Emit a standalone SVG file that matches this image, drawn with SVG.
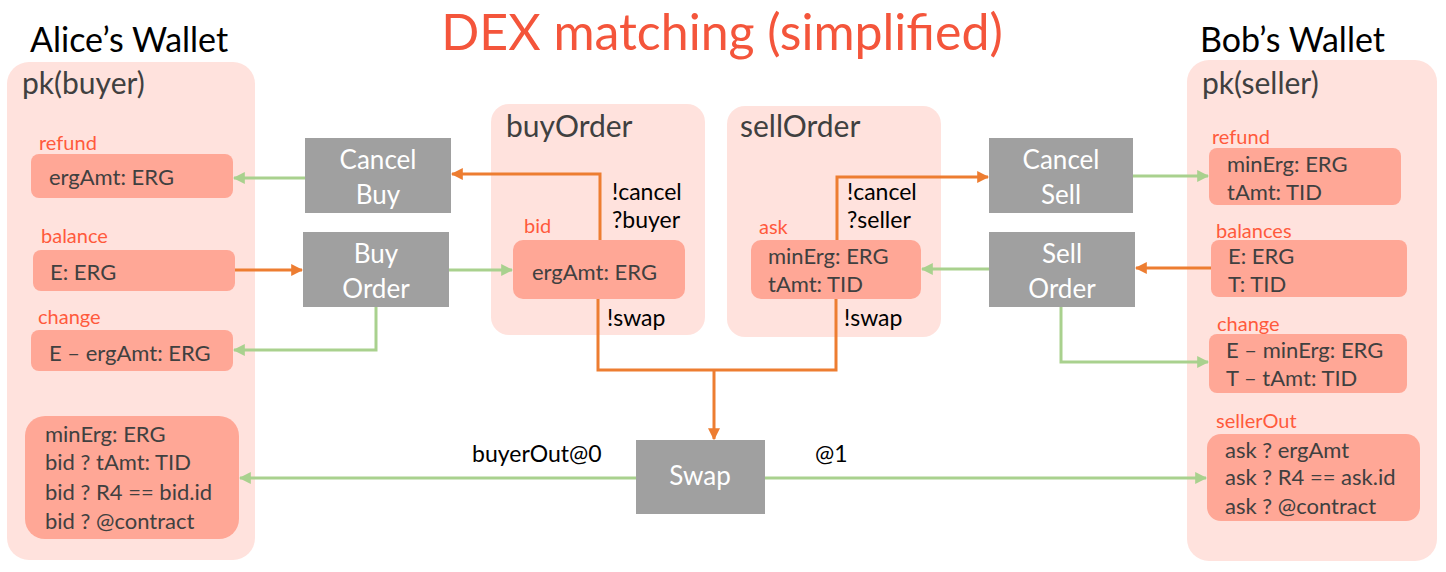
<svg xmlns="http://www.w3.org/2000/svg" width="1446" height="572" viewBox="0 0 1446 572">
<defs>
<marker id="ag" viewBox="0 0 10 10" refX="9" refY="5" markerWidth="4" markerHeight="4" orient="auto" markerUnits="strokeWidth"><path d="M0,0 L10,5 L0,10 z" fill="#A9D18E"/></marker>
<marker id="ao" viewBox="0 0 10 10" refX="9" refY="5" markerWidth="4" markerHeight="4" orient="auto" markerUnits="strokeWidth"><path d="M0,0 L10,5 L0,10 z" fill="#ED7D31"/></marker>
<style>
text{font-family:Lato,"Liberation Sans",sans-serif}
.panel{fill:#FFE2DD}
.box{fill:#FFA796}
.gray{fill:#A0A0A0}
.lbl{fill:#FF5A3C;font-size:20px}
.t{fill:#404040;font-size:22px}
.h{fill:#404040;font-size:30px}
.w{fill:#fff;font-size:26px;text-anchor:middle}
.k{fill:#000;font-size:23px}
.g{fill:none;stroke:#A9D18E;stroke-width:3;marker-end:url(#ag)}
.o{fill:none;stroke:#ED7D31;stroke-width:3;marker-end:url(#ao)}
.on{fill:none;stroke:#ED7D31;stroke-width:3}
</style>
</defs>
<rect width="1446" height="572" fill="#fff"/>
<text x="722" y="50" text-anchor="middle" style="fill:#F4553B;font-size:50px">DEX matching (simplified)</text>

<g id="alice">
<text x="30" y="52" style="fill:#000;font-size:34px">Alice’s Wallet</text>
<rect class="panel" x="7" y="62" width="248" height="498" rx="22"/>
<text class="h" x="22" y="94">pk(buyer)</text>
</g>
<g id="alice-refund">
<text class="lbl" x="39" y="150">refund</text>
<rect class="box" x="31" y="154" width="202" height="44" rx="8"/>
<text class="t" x="49" y="185">ergAmt: ERG</text>
</g>
<g id="alice-balance">
<text class="lbl" x="41" y="243">balance</text>
<rect class="box" x="33" y="250" width="202" height="41" rx="8"/>
<text class="t" x="50" y="280">E: ERG</text>
</g>
<g id="alice-change">
<text class="lbl" x="38" y="324">change</text>
<rect class="box" x="31" y="330" width="202" height="41" rx="8"/>
<text class="t" x="49" y="361">E – ergAmt: ERG</text>
</g>
<g id="buyerOut">
<rect class="box" x="25" y="416" width="214" height="123" rx="20"/>
<text class="t" x="45" y="442">minErg: ERG</text>
<text class="t" x="45" y="470">bid ? tAmt: TID</text>
<text class="t" x="45" y="500">bid ? R4 == bid.id</text>
<text class="t" x="45" y="529">bid ? @contract</text>
</g>

<g id="cancelBuy">
<rect class="gray" x="305" y="138" width="146" height="75"/>
<text class="w" x="378" y="169">Cancel</text>
<text class="w" x="378" y="204">Buy</text>
</g>
<g id="buyOrderTx">
<rect class="gray" x="303" y="232" width="146" height="75"/>
<text class="w" x="376" y="263">Buy</text>
<text class="w" x="376" y="298">Order</text>
</g>

<g id="buyOrder">
<rect class="panel" x="491" y="104" width="214" height="231" rx="18"/>
<text class="h" x="506" y="137">buyOrder</text>
<text class="lbl" x="524" y="233">bid</text>
<rect class="box" x="513" y="240" width="172" height="59" rx="10"/>
<text class="t" x="532" y="280">ergAmt: ERG</text>
</g>

<g id="sellOrder">
<rect class="panel" x="727" y="106" width="214" height="231" rx="18"/>
<text class="h" x="740" y="137">sellOrder</text>
<text class="lbl" x="759" y="234">ask</text>
<rect class="box" x="751" y="240" width="170" height="59" rx="10"/>
<text class="t" x="768" y="264">minErg: ERG</text>
<text class="t" x="768" y="292">tAmt: TID</text>
</g>

<g id="cancelSell">
<rect class="gray" x="989" y="138" width="144" height="75"/>
<text class="w" x="1061" y="169">Cancel</text>
<text class="w" x="1061" y="204">Sell</text>
</g>
<g id="sellOrderTx">
<rect class="gray" x="989" y="232" width="146" height="75"/>
<text class="w" x="1062" y="263">Sell</text>
<text class="w" x="1062" y="298">Order</text>
</g>

<g id="swap">
<rect class="gray" x="636" y="440" width="129" height="74"/>
<text class="w" x="700" y="485">Swap</text>
</g>

<g id="bob">
<text x="1200" y="52" style="fill:#000;font-size:34px">Bob’s Wallet</text>
<rect class="panel" x="1187" y="60" width="250" height="501" rx="22"/>
<text class="h" x="1202" y="94">pk(seller)</text>
</g>
<g id="bob-refund">
<text class="lbl" x="1212" y="144">refund</text>
<rect class="box" x="1209" y="148" width="192" height="57" rx="8"/>
<text class="t" x="1227" y="172">minErg: ERG</text>
<text class="t" x="1227" y="200">tAmt: TID</text>
</g>
<g id="bob-balances">
<text class="lbl" x="1216" y="238">balances</text>
<rect class="box" x="1211" y="240" width="196" height="57" rx="8"/>
<text class="t" x="1228" y="264">E: ERG</text>
<text class="t" x="1228" y="292">T: TID</text>
</g>
<g id="bob-change">
<text class="lbl" x="1217" y="331">change</text>
<rect class="box" x="1209" y="334" width="198" height="59" rx="8"/>
<text class="t" x="1226" y="358">E – minErg: ERG</text>
<text class="t" x="1226" y="386">T – tAmt: TID</text>
</g>
<g id="sellerOut">
<text class="lbl" x="1216" y="428">sellerOut</text>
<rect class="box" x="1207" y="434" width="213" height="87" rx="14"/>
<text class="t" x="1225" y="458">ask ? ergAmt</text>
<text class="t" x="1225" y="485">ask ? R4 == ask.id</text>
<text class="t" x="1225" y="514">ask ? @contract</text>
</g>

<g id="connectors">
<path class="g" d="M305,178 H234"/>
<path class="g" d="M449,270 H512"/>
<path class="g" d="M376,307 V350 H234"/>
<path class="g" d="M636,478 H240"/>
<path class="g" d="M765,478 H1206"/>
<path class="g" d="M1133,176 H1208"/>
<path class="g" d="M989,269 H922"/>
<path class="g" d="M1061,307 V362 H1208"/>
<path class="o" d="M235,270 H302"/>
<path class="o" d="M600,240 V174 H452"/>
<path class="o" d="M837,240 V177 H988"/>
<path class="o" d="M1211,268 H1136"/>
<path class="on" d="M598,299 V370 H836 V299"/>
<path class="o" d="M714,370 V439"/>
<text class="k" x="612" y="200">!cancel</text>
<text class="k" x="612" y="228">?buyer</text>
<text class="k" x="607" y="326">!swap</text>
<text class="k" x="847" y="200">!cancel</text>
<text class="k" x="847" y="228">?seller</text>
<text class="k" x="844" y="326">!swap</text>
<text class="k" x="472" y="462">buyerOut@0</text>
<text class="k" x="815" y="462">@1</text>
</g>
</svg>
